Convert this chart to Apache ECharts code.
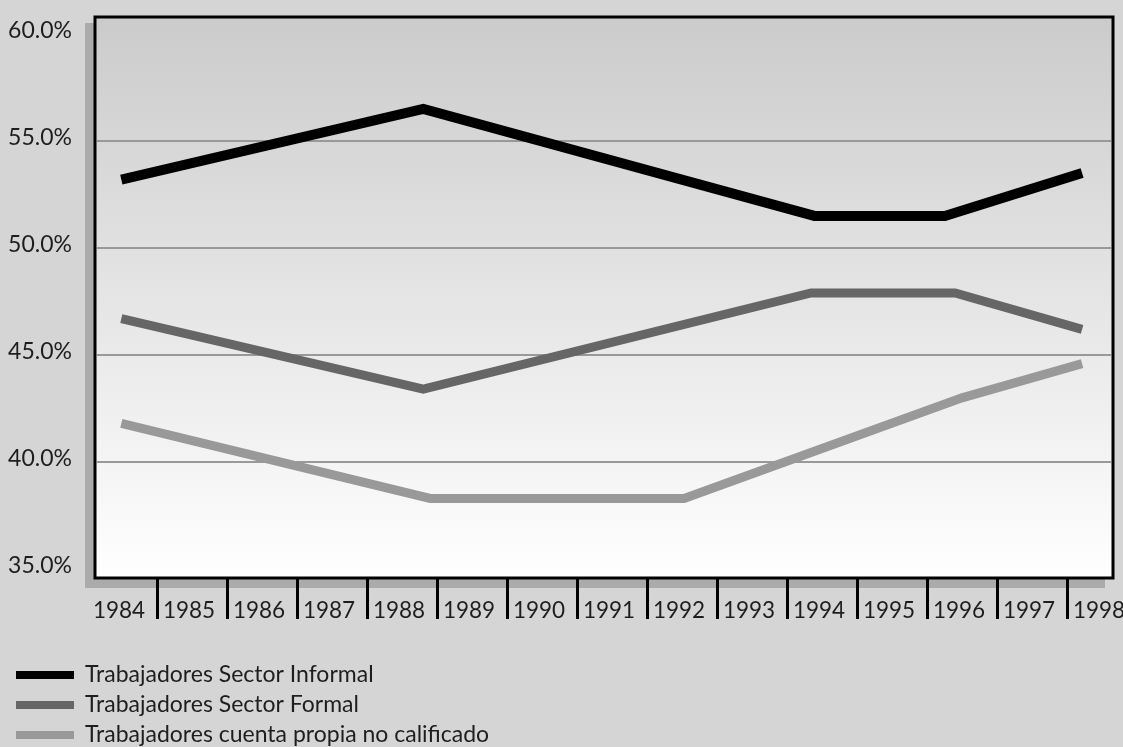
<!DOCTYPE html>
<html>
<head>
<meta charset="utf-8">
<script src="https://cdn.jsdelivr.net/npm/echarts@6/dist/echarts.min.js"></script>
<style>
  html, body { margin: 0; padding: 0; background: #d5d5d5; }
  #chart { width: 1123px; height: 747px; }
</style>
</head>
<body>
<div id="chart"></div>
<script>
// Category labels along the bottom axis
const years = ['1984', '1985', '1986', '1987', '1988', '1989', '1990', '1991',
               '1992', '1993', '1994', '1995', '1996', '1997', '1998'];

// Series names
const seriesNames = [
  'Trabajadores Sector Informal',
  'Trabajadores Sector Formal',
  'Trabajadores cuenta propia no calificado'
];

// Survey points (year position, share in %)
const informalX = [1984, 1988.4, 1994.1, 1996.0, 1998];
const informalY = [53.2, 56.5, 51.5, 51.5, 53.5];

const formalX = [1984, 1988.4, 1994.05, 1996.15, 1998];
const formalY = [46.7, 43.4, 47.9, 47.9, 46.2];

const cuentaX = [1984, 1988.5, 1992.2, 1996.25, 1998];
const cuentaY = [41.8, 38.3, 38.3, 43.0, 44.6];

// Value axis ticks
const yMin = 35, yMax = 60, yStep = 5;

const pairs = (xs, ys) => xs.map((x, i) => [x, ys[i]]);

const textColor = '#1e1e1e';
const font = 'Lato';

const chart = echarts.init(document.getElementById('chart'), null, { renderer: 'canvas' });

chart.setOption({
  animation: false,
  backgroundColor: '#d5d5d5',
  textStyle: { fontFamily: font },
  grid: [
    // drop shadow behind the plot frame
    { left: 85, top: 23, width: 1020, height: 565, show: true,
      backgroundColor: '#ababab', borderWidth: 0, z: 0, outerBoundsMode: 'none' },
    // plot frame with vertical gradient
    { left: 95, top: 17, width: 1018, height: 561, show: true,
      backgroundColor: {
        type: 'linear', x: 0, y: 0, x2: 0, y2: 1,
        colorStops: [
          { offset: 0, color: '#cbcbcb' },
          { offset: 1, color: '#ffffff' }
        ]
      },
      borderColor: '#000', borderWidth: 3, z: 1, outerBoundsMode: 'none' },
    // horizontal grid lines and percentage labels
    { left: 97, top: 34, width: 1014, height: 535, z: 2, outerBoundsMode: 'none' },
    // lines and year axis
    { left: 87, top: 34, width: 1050, height: 535, z: 3, outerBoundsMode: 'none' }
  ],
  xAxis: [
    { gridIndex: 0, type: 'value', show: false },
    { gridIndex: 1, type: 'value', show: false },
    { gridIndex: 2, type: 'value', show: false },
    {
      gridIndex: 3, type: 'category', data: years, position: 'bottom',
      offset: 10, boundaryGap: true, z: 5,
      axisLine: { show: false },
      axisTick: {
        show: true, length: 40,
        interval: (i) => i > 0,
        lineStyle: { color: '#000', width: 3 }
      },
      axisLabel: {
        interval: 0, margin: 20, fontSize: 22.5, lineHeight: 24,
        padding: [0, 6, 0, 0],
        color: textColor, fontFamily: font
      },
      splitLine: { show: false }
    },
    { gridIndex: 3, type: 'value', min: 1983.5, max: 1998.8, show: false }
  ],
  yAxis: [
    { gridIndex: 0, type: 'value', show: false },
    { gridIndex: 1, type: 'value', show: false },
    {
      gridIndex: 2, type: 'value', min: yMin, max: yMax, interval: yStep, z: 2,
      axisLine: { show: false },
      axisTick: { show: false },
      splitLine: {
        show: true, showMinLine: false, showMaxLine: false,
        lineStyle: { color: '#999999', width: 2 }
      },
      axisLabel: {
        formatter: (v) => v.toFixed(1) + '%',
        margin: 25, fontSize: 23, lineHeight: 6, verticalAlign: 'bottom',
        color: textColor, fontFamily: font
      }
    },
    { gridIndex: 3, type: 'value', min: yMin, max: yMax, show: false }
  ],
  legend: {
    orient: 'vertical', left: 16, top: 658, height: 140, padding: 0,
    itemWidth: 58, itemHeight: 8, itemGap: -4, icon: 'rect',
    textStyle: {
      fontSize: 23, lineHeight: 24, color: textColor, fontFamily: font,
      padding: [0, 0, 10, 6]
    },
    data: seriesNames
  },
  series: [
    {
      name: seriesNames[0], type: 'line', xAxisIndex: 4, yAxisIndex: 3,
      data: pairs(informalX, informalY), symbol: 'none', z: 6, silent: true,
      color: '#000000',
      lineStyle: { width: 10, color: '#000000', join: 'miter', cap: 'butt' }
    },
    {
      name: seriesNames[1], type: 'line', xAxisIndex: 4, yAxisIndex: 3,
      data: pairs(formalX, formalY), symbol: 'none', z: 6, silent: true,
      color: '#666666',
      lineStyle: { width: 9, color: '#666666', join: 'miter', cap: 'butt' }
    },
    {
      name: seriesNames[2], type: 'line', xAxisIndex: 4, yAxisIndex: 3,
      data: pairs(cuentaX, cuentaY), symbol: 'none', z: 6, silent: true,
      color: '#999999',
      lineStyle: { width: 9, color: '#999999', join: 'miter', cap: 'butt' }
    }
  ]
});
</script>
</body>
</html>
